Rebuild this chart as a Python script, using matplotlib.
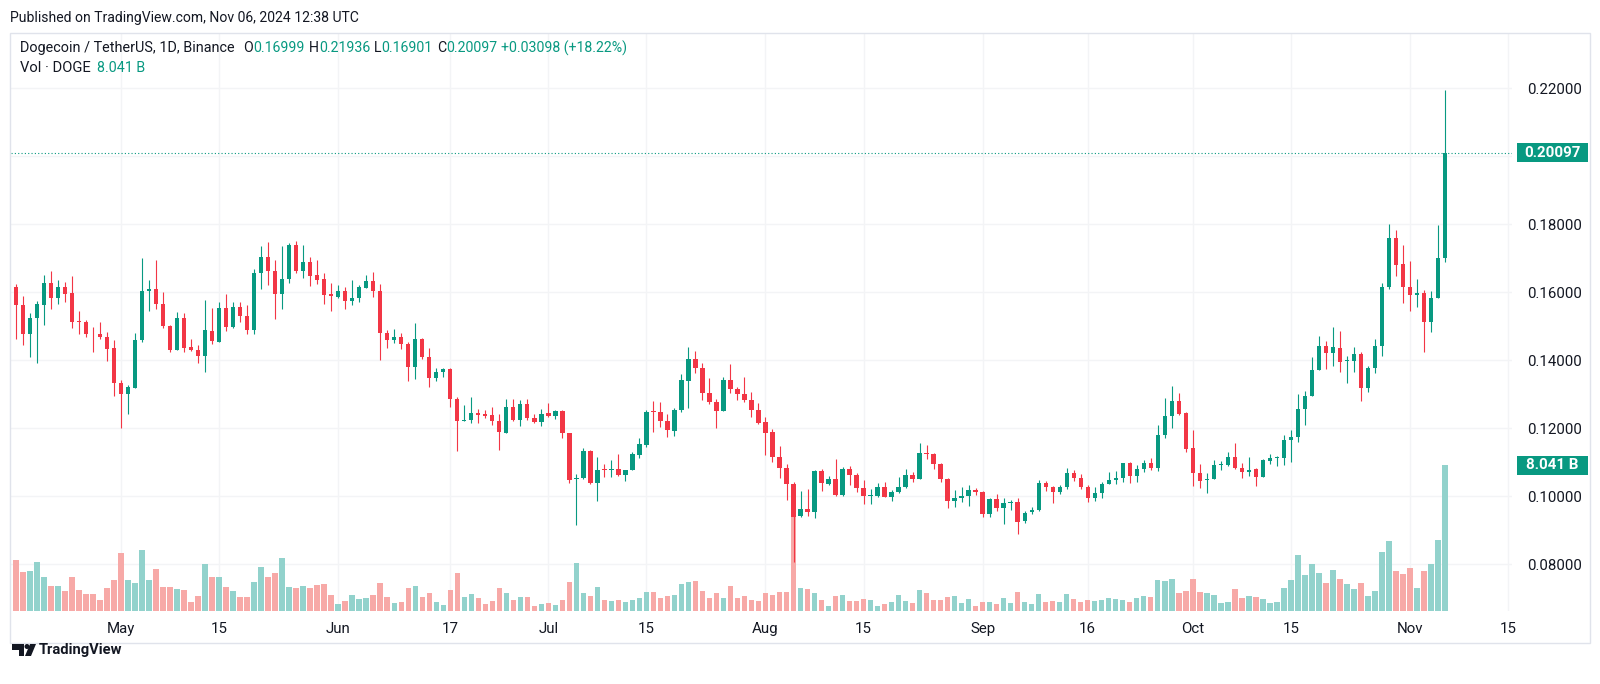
import matplotlib
matplotlib.use("Agg")
import matplotlib.pyplot as plt
import matplotlib.dates as mdates
import matplotlib.transforms as mtransforms
from matplotlib.patches import Rectangle, Polygon, Circle
import numpy as np
import pandas as pd

plt.rcParams["font.family"] = ["Roboto", "DejaVu Sans"]

# --- data (DOGE/USDT daily) ---
start_date = "2024-04-16"
opens = [
    0.1615, 0.1562, 0.1476, 0.1523, 0.1564, 0.1627, 0.1583, 0.1615, 0.1598, 0.1516,
    0.1513, 0.1480, 0.1478, 0.1468, 0.1436, 0.1333, 0.1300, 0.1319, 0.1460, 0.1603,
    0.1611, 0.1565, 0.1501, 0.1431, 0.1524, 0.1438, 0.1430, 0.1413, 0.1487, 0.1454,
    0.1554, 0.1498, 0.1557, 0.1531, 0.1490, 0.1658, 0.1705, 0.1663, 0.1596, 0.1638,
    0.1740, 0.1663, 0.1689, 0.1650, 0.1638, 0.1595, 0.1587, 0.1603, 0.1574, 0.1583,
    0.1613, 0.1633, 0.1603, 0.1481, 0.1461, 0.1468, 0.1449, 0.1380, 0.1463, 0.1410,
    0.1349, 0.1367, 0.1373, 0.1287, 0.1222, 0.1223, 0.1246, 0.1241, 0.1238, 0.1222,
    0.1187, 0.1263, 0.1225, 0.1271, 0.1229, 0.1218, 0.1245, 0.1235, 0.1251, 0.1185,
    0.1050, 0.1053, 0.1133, 0.1040, 0.1078, 0.1076, 0.1080, 0.1063, 0.1077, 0.1122,
    0.1150, 0.1250, 0.1249, 0.1220, 0.1193, 0.1253, 0.1340, 0.1403, 0.1377, 0.1303,
    0.1278, 0.1251, 0.1342, 0.1315, 0.1301, 0.1283, 0.1254, 0.1218, 0.1188, 0.1115,
    0.1082, 0.1037, 0.0942, 0.0963, 0.0955, 0.1073, 0.1036, 0.1051, 0.1003, 0.1079,
    0.1062, 0.1024, 0.1000, 0.1000, 0.1026, 0.0999, 0.1012, 0.1028, 0.1062, 0.1051,
    0.1128, 0.1124, 0.1095, 0.1050, 0.0987, 0.0996, 0.1001, 0.1018, 0.1012, 0.0948,
    0.0991, 0.0965, 0.0981, 0.0984, 0.0926, 0.0953, 0.0960, 0.1038, 0.1027, 0.1012,
    0.1026, 0.1068, 0.1053, 0.1026, 0.0996, 0.1009, 0.1036, 0.1047, 0.1053, 0.1097,
    0.1061, 0.1080, 0.1097, 0.1082, 0.1180, 0.1236, 0.1281, 0.1244, 0.1141, 0.1068,
    0.1048, 0.1051, 0.1091, 0.1091, 0.1115, 0.1084, 0.1070, 0.1079, 0.1058, 0.1105,
    0.1114, 0.1114, 0.1166, 0.1174, 0.1256, 0.1295, 0.1372, 0.1442, 0.1421, 0.1437,
    0.1399, 0.1399, 0.1419, 0.1318, 0.1376, 0.1443, 0.1615, 0.1760, 0.1683, 0.1617,
    0.1591, 0.1599, 0.1514, 0.1583, 0.16999,
]
highs = [
    0.1624, 0.1589, 0.1540, 0.1575, 0.1650, 0.1662, 0.1636, 0.1630, 0.1648, 0.1546,
    0.1519, 0.1499, 0.1513, 0.1484, 0.1460, 0.1341, 0.1327, 0.1480, 0.1701, 0.1636,
    0.1695, 0.1601, 0.1503, 0.1542, 0.1540, 0.1463, 0.1444, 0.1578, 0.1554, 0.1571,
    0.1595, 0.1571, 0.1570, 0.1564, 0.1668, 0.1735, 0.1748, 0.1696, 0.1735, 0.1745,
    0.1750, 0.1738, 0.1705, 0.1695, 0.1658, 0.1628, 0.1621, 0.1615, 0.1636, 0.1621,
    0.1650, 0.1660, 0.1623, 0.1488, 0.1493, 0.1480, 0.1454, 0.1510, 0.1466, 0.1436,
    0.1378, 0.1378, 0.1378, 0.1293, 0.1269, 0.1291, 0.1258, 0.1254, 0.1262, 0.1241,
    0.1287, 0.1287, 0.1284, 0.1285, 0.1242, 0.1256, 0.1275, 0.1254, 0.1254, 0.1186,
    0.1066, 0.1141, 0.1135, 0.1117, 0.1095, 0.1107, 0.1125, 0.1078, 0.1129, 0.1170,
    0.1254, 0.1280, 0.1277, 0.1242, 0.1261, 0.1361, 0.1438, 0.1427, 0.1391, 0.1347,
    0.1285, 0.1350, 0.1389, 0.1320, 0.1351, 0.1306, 0.1274, 0.1233, 0.1197, 0.1148,
    0.1095, 0.1043, 0.1016, 0.1022, 0.1078, 0.1080, 0.1060, 0.1110, 0.1087, 0.1090,
    0.1068, 0.1048, 0.1022, 0.1040, 0.1043, 0.1019, 0.1057, 0.1080, 0.1070, 0.1156,
    0.1151, 0.1128, 0.1099, 0.1053, 0.1019, 0.1026, 0.1032, 0.1024, 0.1016, 0.0994,
    0.1007, 0.0995, 0.0989, 0.0994, 0.0958, 0.0969, 0.1048, 0.1045, 0.1030, 0.1033,
    0.1084, 0.1078, 0.1067, 0.1033, 0.1027, 0.1041, 0.1071, 0.1073, 0.1099, 0.1100,
    0.1092, 0.1107, 0.1112, 0.1210, 0.1288, 0.1323, 0.1305, 0.1247, 0.1195, 0.1095,
    0.1068, 0.1107, 0.1105, 0.1130, 0.1158, 0.1097, 0.1115, 0.1082, 0.1110, 0.1125,
    0.1119, 0.1180, 0.1195, 0.1301, 0.1311, 0.1409, 0.1472, 0.1458, 0.1499, 0.1487,
    0.1413, 0.1440, 0.1425, 0.1383, 0.1463, 0.1626, 0.1801, 0.1783, 0.1738, 0.1692,
    0.1638, 0.1607, 0.1604, 0.1798, 0.21936,
]
lows = [
    0.1464, 0.1446, 0.1410, 0.1393, 0.1503, 0.1552, 0.1566, 0.1572, 0.1495, 0.1476,
    0.1469, 0.1425, 0.1462, 0.1399, 0.1295, 0.1201, 0.1243, 0.1319, 0.1455, 0.1546,
    0.1552, 0.1495, 0.1423, 0.1431, 0.1425, 0.1428, 0.1393, 0.1366, 0.1447, 0.1454,
    0.1485, 0.1495, 0.1513, 0.1476, 0.1478, 0.1611, 0.1621, 0.1520, 0.1552, 0.1628,
    0.1658, 0.1643, 0.1619, 0.1623, 0.1566, 0.1544, 0.1583, 0.1550, 0.1562, 0.1572,
    0.1613, 0.1586, 0.1402, 0.1437, 0.1452, 0.1434, 0.1339, 0.1346, 0.1403, 0.1322,
    0.1339, 0.1351, 0.1262, 0.1134, 0.1222, 0.1215, 0.1215, 0.1231, 0.1210, 0.1136,
    0.1187, 0.1220, 0.1207, 0.1223, 0.1215, 0.1207, 0.1234, 0.1226, 0.1171, 0.1040,
    0.0916, 0.1050, 0.1036, 0.0987, 0.1058, 0.1058, 0.1061, 0.1046, 0.1077, 0.1113,
    0.1146, 0.1190, 0.1205, 0.1174, 0.1178, 0.1249, 0.1259, 0.1362, 0.1283, 0.1271,
    0.1202, 0.1251, 0.1303, 0.1283, 0.1278, 0.1234, 0.1213, 0.1122, 0.1102, 0.1053,
    0.0989, 0.0808, 0.0940, 0.0942, 0.0935, 0.1016, 0.1032, 0.1001, 0.1001, 0.1033,
    0.1014, 0.0978, 0.0977, 0.0999, 0.0997, 0.0987, 0.1011, 0.1023, 0.1042, 0.1051,
    0.1109, 0.1079, 0.1043, 0.0965, 0.0968, 0.0984, 0.0970, 0.1004, 0.0940, 0.0940,
    0.0958, 0.0919, 0.0960, 0.0889, 0.0920, 0.0947, 0.0957, 0.1017, 0.0979, 0.1007,
    0.1021, 0.1045, 0.1022, 0.0984, 0.0987, 0.0994, 0.1036, 0.1037, 0.1041, 0.1040,
    0.1043, 0.1071, 0.1078, 0.1073, 0.1171, 0.1202, 0.1239, 0.1131, 0.1029, 0.1024,
    0.1011, 0.1050, 0.1078, 0.1089, 0.1079, 0.1053, 0.1061, 0.1030, 0.1058, 0.1095,
    0.1089, 0.1092, 0.1102, 0.1161, 0.1210, 0.1295, 0.1372, 0.1374, 0.1383, 0.1366,
    0.1332, 0.1366, 0.1281, 0.1308, 0.1364, 0.1413, 0.1609, 0.1648, 0.1568, 0.1544,
    0.1558, 0.1424, 0.1484, 0.1583, 0.16901,
]
closes = [
    0.1562, 0.1476, 0.1525, 0.1566, 0.1627, 0.1583, 0.1615, 0.1596, 0.1513, 0.1514,
    0.1478, 0.1479, 0.1468, 0.1434, 0.1334, 0.1300, 0.1321, 0.1460, 0.1603, 0.1611,
    0.1565, 0.1501, 0.1431, 0.1524, 0.1437, 0.1429, 0.1413, 0.1488, 0.1456, 0.1554,
    0.1498, 0.1557, 0.1531, 0.1490, 0.1658, 0.1705, 0.1663, 0.1596, 0.1638, 0.1740,
    0.1663, 0.1689, 0.1648, 0.1637, 0.1593, 0.1589, 0.1603, 0.1574, 0.1583, 0.1615,
    0.1633, 0.1603, 0.1481, 0.1461, 0.1468, 0.1449, 0.1380, 0.1463, 0.1410, 0.1349,
    0.1367, 0.1373, 0.1287, 0.1221, 0.1224, 0.1246, 0.1240, 0.1237, 0.1221, 0.1189,
    0.1263, 0.1225, 0.1271, 0.1229, 0.1218, 0.1242, 0.1235, 0.1252, 0.1185, 0.1048,
    0.1054, 0.1133, 0.1040, 0.1076, 0.1077, 0.1080, 0.1063, 0.1077, 0.1123, 0.1153,
    0.1249, 0.1248, 0.1220, 0.1195, 0.1254, 0.1342, 0.1403, 0.1377, 0.1303, 0.1278,
    0.1251, 0.1342, 0.1315, 0.1301, 0.1283, 0.1254, 0.1217, 0.1187, 0.1115, 0.1082,
    0.1037, 0.0940, 0.0963, 0.0955, 0.1075, 0.1038, 0.1051, 0.1003, 0.1079, 0.1062,
    0.1024, 0.1002, 0.1001, 0.1026, 0.0999, 0.1013, 0.1028, 0.1063, 0.1052, 0.1128,
    0.1124, 0.1095, 0.1050, 0.0987, 0.0996, 0.1002, 0.1018, 0.1012, 0.0948, 0.0991,
    0.0965, 0.0981, 0.0984, 0.0924, 0.0952, 0.0961, 0.1038, 0.1026, 0.1012, 0.1027,
    0.1068, 0.1055, 0.1026, 0.0996, 0.1009, 0.1037, 0.1047, 0.1054, 0.1097, 0.1061,
    0.1080, 0.1097, 0.1084, 0.1180, 0.1236, 0.1281, 0.1242, 0.1138, 0.1068, 0.1046,
    0.1051, 0.1092, 0.1092, 0.1115, 0.1084, 0.1070, 0.1078, 0.1058, 0.1107, 0.1114,
    0.1115, 0.1166, 0.1174, 0.1256, 0.1295, 0.1372, 0.1442, 0.1421, 0.1438, 0.1396,
    0.1400, 0.1419, 0.1318, 0.1376, 0.1443, 0.1617, 0.1760, 0.1681, 0.1617, 0.1591,
    0.1599, 0.1514, 0.1583, 0.1700, 0.20097,
]
# volume in billions DOGE
volumes = [
    2.83, 2.16, 2.22, 2.72, 1.85, 1.39, 1.39, 1.11, 1.85, 1.16,
    0.92, 0.92, 0.61, 1.28, 1.70, 3.20, 1.70, 1.55, 3.36, 1.70,
    2.31, 1.33, 1.33, 1.22, 1.16, 0.50, 0.81, 2.59, 1.89, 1.89,
    1.33, 1.11, 0.76, 0.76, 1.61, 2.44, 1.85, 2.11, 2.94, 1.33,
    1.28, 1.39, 1.28, 1.44, 1.50, 0.87, 0.39, 0.55, 0.87, 0.65,
    0.70, 0.87, 1.53, 0.76, 0.44, 0.50, 1.28, 1.39, 0.76, 0.98,
    0.50, 0.33, 1.16, 2.11, 0.76, 0.92, 0.70, 0.39, 0.55, 1.28,
    0.98, 0.61, 0.76, 0.76, 0.28, 0.39, 0.44, 0.33, 0.61, 1.59,
    2.63, 1.02, 0.81, 1.33, 0.61, 0.55, 0.61, 0.50, 0.61, 0.70,
    1.07, 1.07, 0.70, 0.81, 0.87, 1.50, 1.59, 1.65, 1.11, 0.70,
    0.98, 0.70, 1.39, 0.70, 0.81, 0.61, 0.55, 0.98, 0.87, 1.07,
    1.07, 6.00, 1.28, 1.22, 1.02, 0.61, 0.28, 0.81, 0.87, 0.55,
    0.55, 0.67, 0.61, 0.28, 0.39, 0.50, 0.87, 0.55, 0.44, 1.16,
    1.02, 0.61, 0.61, 0.76, 0.81, 0.44, 0.67, 0.28, 0.50, 0.50,
    0.39, 0.70, 0.44, 1.07, 0.50, 0.39, 0.92, 0.50, 0.55, 0.50,
    0.92, 0.67, 0.50, 0.61, 0.55, 0.61, 0.70, 0.67, 0.61, 0.50,
    0.70, 0.81, 0.76, 1.70, 1.65, 1.74, 0.98, 1.11, 1.79, 1.07,
    1.02, 0.87, 0.44, 0.50, 1.22, 0.70, 0.81, 0.76, 0.67, 0.44,
    0.50, 1.28, 1.70, 3.09, 1.96, 2.59, 2.11, 1.53, 2.26, 1.74,
    1.48, 1.22, 1.53, 0.81, 1.11, 3.25, 3.86, 2.20, 2.05, 2.37,
    1.28, 2.20, 2.57, 3.92, 8.041,
]
tick_dates = ["2024-05-01", "2024-05-15", "2024-06-01", "2024-06-17", "2024-07-01",
              "2024-07-15", "2024-08-01", "2024-08-15", "2024-09-01", "2024-09-16",
              "2024-10-01", "2024-10-15", "2024-11-01", "2024-11-15"]
tick_labels = ["May", "15", "Jun", "17", "Jul", "15", "Aug", "15", "Sep", "16",
               "Oct", "15", "Nov", "15"]
price_ticks = [0.08, 0.10, 0.12, 0.14, 0.16, 0.18, 0.20, 0.22]

UP = "#089981"
DOWN = "#f23645"
UP_VOL = "#92d2cc"
DOWN_VOL = "#f7a9a7"
TEXT = "#131722"
GRID = "#f3f4f6"

W, H = 1600, 684


def fig_box(left, top, right, bottom):
    # pixel box (top-left origin) -> figure fraction
    return [left / W, 1 - bottom / H, (right - left) / W, (bottom - top) / H]


dates = pd.date_range(start_date, periods=len(closes))
x = mdates.date2num(dates)
o = np.array(opens)
c = np.array(closes)
up = c >= o

fig = plt.figure(figsize=(W / 100, H / 100), dpi=100)
fig.patch.set_facecolor("white")

pos = fig_box(11, 33, 1512, 611)
ax_v = fig.add_axes(pos)
ax = fig.add_axes(pos, sharex=ax_v)
ax.patch.set_visible(False)

ax_v.set_xlim(x[0] - 0.71, x[0] + 213.57)
ax.set_ylim(0.06626, 0.23626)
ax_v.set_ylim(0, 31.9)

# grid (behind volume)
hgrid = mtransforms.blended_transform_factory(ax_v.transAxes, ax.transData)
for p in price_ticks:
    ax_v.plot([0, 1], [p, p], transform=hgrid, color=GRID, lw=1.0, zorder=0)
for d in tick_dates:
    ax_v.axvline(mdates.date2num(pd.Timestamp(d)), color=GRID, lw=1.0, zorder=0)

# volume
ax_v.bar(x, volumes, width=0.78, color=np.where(up, UP_VOL, DOWN_VOL),
         linewidth=0, zorder=2)

# candles
cols = np.where(up, UP, DOWN)
ax.vlines(x, lows, highs, colors=cols, linewidth=0.8, zorder=3)
body_low = np.minimum(o, c)
body_h = np.maximum(np.abs(c - o), 0.00025)
ax.bar(x, body_h, bottom=body_low, width=0.62, color=cols, linewidth=0, zorder=4)

# last price line
ax.axhline(closes[-1], color=UP, linestyle=(0, (1, 2)), linewidth=0.8, zorder=2)

for a in (ax, ax_v):
    for s in a.spines.values():
        s.set_visible(False)
ax_v.tick_params(left=False, bottom=False, labelleft=False, labelbottom=False)
ax.yaxis.tick_right()
shown = [p for p in price_ticks if abs(p - 0.20) > 1e-9]
ax.set_yticks(shown)
ax.set_yticklabels([f"{p:.5f}" for p in shown])
ax.set_xticks([mdates.date2num(pd.Timestamp(d)) for d in tick_dates])
ax.set_xticklabels(tick_labels)
ax.tick_params(axis="both", length=0, labelsize=10.8, labelcolor=TEXT)
ax.tick_params(axis="y", pad=11)
ax.tick_params(axis="x", pad=8)

fig.canvas.draw()
ident = mtransforms.IdentityTransform()


def value_box(y_disp, label):
    fig.add_artist(Rectangle((1517, y_disp - 9.5), 71, 19, transform=ident,
                             facecolor=UP, edgecolor="none"))
    fig.text(1552.5 / W, y_disp / H, label, color="white", fontsize=10.8,
             fontweight="bold", ha="center", va="center")


value_box(ax.transData.transform((x[0], closes[-1]))[1], f"{closes[-1]:.5f}")
value_box(ax_v.transData.transform((x[0], volumes[-1]))[1], f"{volumes[-1]:.3f} B")

# frame
fig.add_artist(Rectangle((10, H - 643), 1580, 610, transform=ident, fill=False,
                         edgecolor="#e0e3eb", linewidth=1))

renderer = fig.canvas.get_renderer()


def rainbow(px, py, parts):
    xx = px
    for s, col, size, gap in parts:
        t = fig.text(xx / W, 1 - py / H, s, color=col, fontsize=size,
                     ha="left", va="center")
        xx += t.get_window_extent(renderer=renderer).width + gap


fig.text(10 / W, 1 - 18 / H, "Published on TradingView.com, Nov 06, 2024 12:38 UTC",
         color=TEXT, fontsize=10.1, ha="left", va="center")

chg = closes[-1] - opens[-1]
rainbow(20, 48, [
    ("Dogecoin / TetherUS, 1D, Binance", TEXT, 10.4, 9),
    ("O", TEXT, 10.2, 0), (f"{opens[-1]:.5f}", UP, 10.2, 4),
    ("H", TEXT, 10.2, 0), (f"{highs[-1]:.5f}", UP, 10.2, 4),
    ("L", TEXT, 10.2, 0), (f"{lows[-1]:.5f}", UP, 10.2, 4),
    ("C", TEXT, 10.2, 0), (f"{closes[-1]:.5f}", UP, 10.2, 4),
    (f"+{chg:.5f} (+{chg / opens[-1] * 100:.2f}%)", UP, 10.2, 0),
])
rainbow(20, 68, [("Vol · DOGE", TEXT, 10.6, 6), (f"{volumes[-1]:.3f} B", UP, 10.3, 0)])

# TradingView logo
fig.add_artist(Polygon([(12, H - 644), (24, H - 644), (24, H - 656), (19, H - 656),
                        (19, H - 650), (12, H - 650)], closed=True, transform=ident,
                       facecolor=TEXT, edgecolor="none"))
fig.add_artist(Circle((27, H - 646.5), 2.5, transform=ident, facecolor=TEXT,
                      edgecolor="none"))
fig.add_artist(Polygon([(30, H - 644), (36, H - 644), (31, H - 656), (25, H - 656)],
                       closed=True, transform=ident, facecolor=TEXT, edgecolor="none"))
fig.text(39 / W, 1 - 650 / H, "TradingView", color=TEXT, fontsize=10.6,
         fontweight="bold", ha="left", va="center")

fig.savefig("out.png", dpi=100, facecolor="white")
